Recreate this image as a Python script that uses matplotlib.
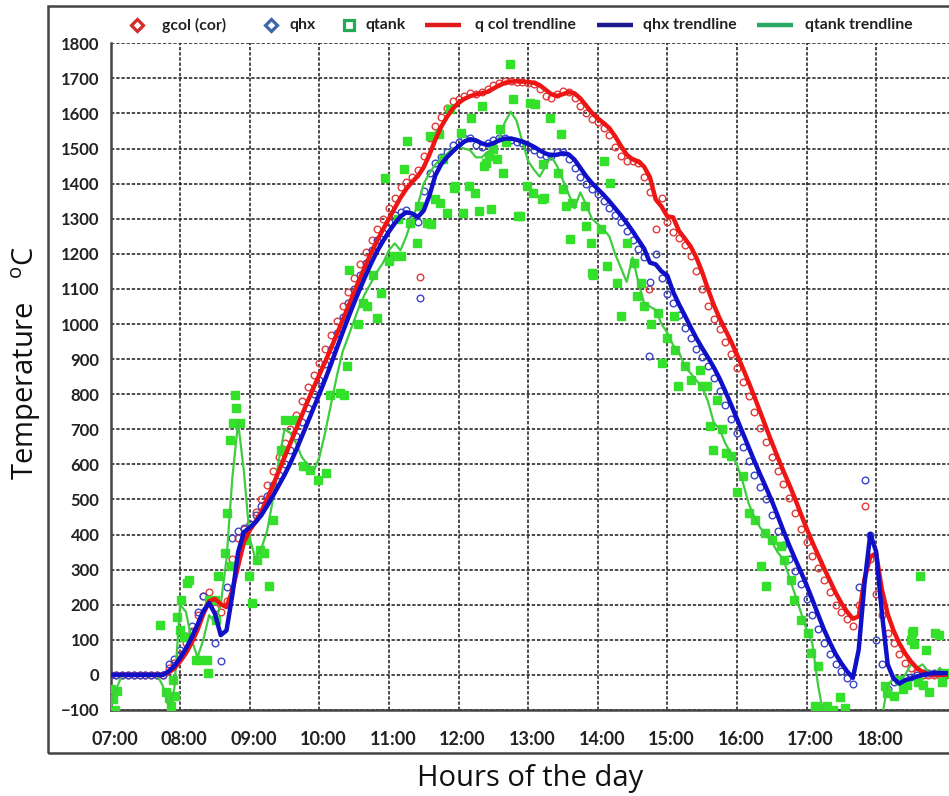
import matplotlib
matplotlib.use("Agg")
import matplotlib.pyplot as plt
import matplotlib.transforms as mtransforms
from matplotlib.lines import Line2D
from matplotlib.patches import Rectangle
import numpy as np
import pandas as pd

# 5-minute samples from 07:00 to 19:00, one row per hour (12 values), last value = 19:00
qcol = [
    0, 0, 0, 0, 0, 0, 0, 0, 0, 0, 20, 35,                                      # 07
    60, 90, 125, 170, 225, 235, 190, 180, 210, 330, 390, 415,                   # 08
    430, 465, 500, 540, 580, 620, 660, 700, 740, 780, 820, 855,                 # 09
    890, 930, 970, 1010, 1050, 1090, 1130, 1170, 1205, 1240, 1270, 1300,        # 10
    1330, 1360, 1390, 1405, 1420, 1440, 1480, 1530, 1565, 1590, 1615, 1635,     # 11
    1640, 1650, 1658, 1655, 1660, 1670, 1682, 1688, 1692, 1693, 1690, 1690,     # 12
    1688, 1684, 1670, 1650, 1645, 1655, 1665, 1662, 1645, 1622, 1600, 1584,     # 13
    1575, 1560, 1540, 1505, 1478, 1465, 1465, 1460, 1420, 1375, 1270, 1360,     # 14
    1290, 1262, 1245, 1225, 1195, 1150, 1100, 1050, 1015, 985, 950, 915,        # 15
    875, 835, 795, 750, 705, 665, 620, 580, 545, 505, 460, 415,                 # 16
    380, 340, 305, 270, 235, 200, 180, 160, 140, 200, 480, 330,                 # 17
    230, 170, 120, 90, 60, 35, 20, 5, 0, 0, 0, 0,                               # 18
    0]

qhx = [
    0, 0, 0, 0, 0, 0, 0, 0, 0, 0, 30, 45,                                       # 07
    70, 110, 140, 180, 225, 210, 90, 40, 250, 390, 410, 420,                    # 08
    430, 455, 480, 510, 540, 570, 600, 640, 680, 720, 760, 800,                 # 09
    840, 885, 930, 975, 1020, 1060, 1100, 1140, 1175, 1210, 1240, 1260,         # 10
    1290, 1310, 1320, 1325, 1300, 1290, 1380, 1430, 1460, 1475, 1490, 1510,     # 11
    1520, 1530, 1530, 1510, 1505, 1515, 1525, 1530, 1530, 1525, 1520, 1515,     # 12
    1505, 1495, 1485, 1478, 1480, 1490, 1490, 1470, 1445, 1420, 1400, 1385,     # 13
    1370, 1350, 1330, 1310, 1290, 1265, 1240, 1215, 1190, 1120, 1200, 1130,     # 14
    1085, 1060, 1025, 990, 960, 930, 905, 880, 845, 810, 770, 730,              # 15
    690, 650, 610, 570, 535, 500, 455, 410, 370, 330, 295, 260,                 # 16
    215, 170, 130, 90, 60, 30, 10, -10, -25, 250, 555, 400,                     # 17
    100, 30, -40, -20, -15, -10, -5, 0, 5, 5, 5, 5,                             # 18
    5]

# single off-trend readings (hour, value)
qcol_odd_t = [11.45, 14.73]
qcol_odd_q = [1135, 1100]
qhx_odd_t = [11.45, 14.73]
qhx_odd_q = [1074, 910]

qtank_trend = [
    -90, -40, 0, 0, 0, 0, 0, 0, 0, -30, -90, -40,                               # 07
    200, 180, 100, 50, 100, 170, 150, 200, 330, 560, 720, 580,                  # 08
    390, 330, 360, 410, 500, 610, 700, 690, 660, 620, 600, 580,                 # 09
    620, 690, 770, 850, 920, 965, 1010, 1055, 1090, 1120, 1150, 1175,           # 10
    1210, 1230, 1210, 1250, 1300, 1340, 1400, 1430, 1455, 1470, 1485, 1500,     # 11
    1505, 1500, 1495, 1475, 1475, 1490, 1500, 1530, 1575, 1605, 1580, 1520,     # 12
    1465, 1440, 1420, 1450, 1478, 1450, 1410, 1370, 1330, 1375, 1340, 1300,     # 13
    1285, 1270, 1250, 1200, 1160, 1120, 1190, 1120, 1060, 1050, 1040, 1000,     # 14
    975, 940, 920, 880, 860, 840, 820, 780, 720, 700, 660, 630,                 # 15
    600, 550, 490, 450, 420, 400, 380, 350, 330, 280, 230, 180,                 # 16
    130, 90, -30, -120, -130, -120, -110, -140, -160, -160, -160, -160,         # 17
    -150, -120, -30, -10, -20, 0, 30, 20, 30, 10, 0, 20,                        # 18
    0]

# tank readings: minutes after 07:00 and value
tank_min = [
    0, 2, 4, 6, 43, 48, 50, 52, 54, 56, 57,
    60, 61, 63, 66, 68, 74, 77, 83, 84, 85, 90, 91, 93, 99, 100, 103, 104, 106, 107, 108, 112, 117, 119,
    122, 126, 129, 132, 137, 140, 147, 150, 158, 166, 172, 179,
    186, 189, 198, 201, 204, 206, 213, 218, 221, 226, 230, 233, 237,
    240, 244, 248, 250, 253, 256, 258, 264, 266, 273, 275, 276, 280, 283, 284, 287, 290, 293, 296, 297,
    302, 304, 309, 311, 314, 318, 320, 322, 324, 326, 328, 330, 333, 336, 338, 341, 344, 347, 351, 353, 359,
    362, 364, 366, 372, 373, 374, 379, 386, 388, 390, 393, 396, 398, 409, 410, 414, 415, 416,
    423, 425, 428, 431, 437, 440, 445, 451, 454, 457, 460, 466, 472, 475,
    480, 486, 487, 489, 495, 500, 508, 510, 514, 517, 519, 523, 527, 531, 535,
    540, 545, 550, 556, 561, 564, 565, 570, 578, 581, 587, 589, 595,
    601, 604, 607, 610, 614, 618, 623, 629, 633,
    668, 669, 675, 680, 683, 687, 690, 691, 692, 693, 696, 698, 700, 703, 706, 711, 714, 717, 720]
tank_q = [
    -40, -70, -100, -45, 143, -50, -65, -90, -14, -60, 166,
    128, 214, 109, 262, 271, 43, 43, 43, 5, 214, 214, 157, 281, 347, 461, 670, 309, 718, 799, 761, 718, 385, 281,
    204, 328, 356, 347, 252, 442, 642, 727, 727, 594, 585, 556,
    575, 799, 803, 799, 880, 1155, 1000, 1060, 1051, 1140, 1018, 1089, 1417,
    1180, 1194, 1300, 1193, 1441, 1522, 1289, 1232, 1336, 1289, 1536, 1284, 1355, 1541, 1346, 1469, 1317, 1612, 1389, 1393,
    1545, 1317, 1393, 1588, 1374, 1322, 1621, 1450, 1460, 1480, 1327, 1500, 1470, 1555, 1431, 1520, 1740, 1640, 1308, 1308, 1393,
    1631, 1374, 1626, 1355, 1455, 1360, 1588, 1431, 1541, 1384, 1336, 1241, 1346, 1336, 1279, 1232, 1146, 1141,
    1270, 1465, 1165, 1403, 1117, 1022, 1232, 1175, 1079, 1117, 1051, 1000, 1032, 889,
    960, 1022, 927, 822, 880, 840, 870, 822, 823, 709, 642, 784, 700, 632, 623,
    520, 566, 461, 442, 309, 404, 252, 385, 366, 328, 271, 214, 157,
    119, 62, -90, 24, -95, -90, -100, -62, -95,
    -33, -52, -60, -14, -40, -30, 100, 119, 124, 87, -20, 281, -30, 71, -50, 119, 114, -20, 5]

hour_ticks = list(range(7, 19))
hour_labels = ["%02d:00" % h for h in hour_ticks]

t5 = 7 + np.arange(len(qcol)) * 5 / 60.0
t_tank = 7 + np.array(tank_min) / 60.0

# moving-average trendlines (period 3)
qcol_trend = pd.Series(qcol).rolling(3, min_periods=1).mean()
qhx_trend = pd.Series(qhx).rolling(3, min_periods=1).mean()

W, H = 949, 796
fig = plt.figure(figsize=(W / 100, H / 100), dpi=100)
fig.patch.set_facecolor("white")

# frame around the whole chart
fig.patches.append(Rectangle((48 / W, 1 - 753 / H), 1.0, (753 - 6) / H, transform=fig.transFigure,
                             fill=False, edgecolor="#444444", linewidth=1.8))

ax = fig.add_axes([110.5 / W, 1 - 710 / H, (W - 110.5) / W, (710 - 43.3) / H])

circ = dict(ls="none", marker="o", ms=4.8, mfc="none", mew=1.0, zorder=3)
ax.plot(t5, qcol, mec="#e23b3b", **circ)
ax.plot(qcol_odd_t, qcol_odd_q, mec="#e23b3b", **circ)
ax.plot(t5, qhx, mec="#3b45c8", **circ)
ax.plot(qhx_odd_t, qhx_odd_q, mec="#3b45c8", **circ)
ax.plot(t_tank, tank_q, ls="none", marker="s", ms=5.2, mfc="#33e02a", mec="#33e02a", zorder=4)

ax.plot(t5, qtank_trend, color="#3fcc3f", lw=1.6, zorder=4.5)
ax.plot(t5, qcol_trend, color="#ee1515", lw=3.2, zorder=5, solid_joinstyle="round")
ax.plot(t5, qhx_trend, color="#1010c8", lw=3.2, zorder=6, solid_joinstyle="round")

ax.set_xlim(7, 7 + (W - 110.5) / 69.6)
ax.set_ylim(-100, 1800)
ax.set_yticks(range(-100, 1801, 100))
ax.set_xticks(hour_ticks)
ax.set_xticklabels(hour_labels)

ax.grid(True, color="#1a1a1a", linestyle=(0, (2.2, 1.2)), linewidth=1.1, zorder=0)
ax.set_axisbelow(True)

for side in ["top", "right"]:
    ax.spines[side].set_visible(False)
for side in ["left", "bottom"]:
    ax.spines[side].set_color("#444444")
    ax.spines[side].set_linewidth(1.8)

ax.tick_params(length=0, labelcolor="#222222")
ax.tick_params(axis="x", pad=15, labelsize=13)
ax.tick_params(axis="y", pad=8, labelsize=12)
shift = mtransforms.ScaledTranslation(4 / 100, 0, fig.dpi_scale_trans)
for lab in ax.get_xticklabels():
    lab.set_transform(lab.get_transform() + shift)
for lab in ax.get_xticklabels() + ax.get_yticklabels():
    lab.set_fontfamily("Lato")
    lab.set_fontweight("bold")

ax.set_ylabel("Temperature   $^{\\mathregular{o}}$C", fontsize=21, family="Open Sans", color="#111111")
ax.yaxis.set_label_coords(-0.08, 0.52)
ax.set_xlabel("Hours of the day", fontsize=21, family="Open Sans", color="#111111")
ax.xaxis.set_label_coords(0.5, -0.081)

# legend row across the top: (marker or line, colour, label, handle x in px, text x in px)
legend_y = 1 - 25 / H
legend_items = [
    ("D", "#d42a2a", "gcol (cor)", 137, 162),
    ("D", "#3f66a8", "qhx", 271, 290),
    ("s", "#22aa55", "qtank", 349, 365),
    ("-", "#e01b1b", "q col trendline", 443, 475),
    ("-", "#1a1a8c", "qhx trendline", 615, 643),
    ("-", "#2aa866", "qtank trendline", 775, 805),
]
for kind, color, label, hx, tx in legend_items:
    if kind == "-":
        fig.add_artist(Line2D([(hx - 18) / W, (hx + 18) / W], [legend_y, legend_y], transform=fig.transFigure,
                              color=color, lw=3.2, solid_capstyle="butt"))
    else:
        fig.add_artist(Line2D([hx / W], [legend_y], transform=fig.transFigure, ls="none", marker=kind,
                              ms=6.5, mfc="none", mec=color, mew=2.3))
    fig.text(tx / W, legend_y, label, ha="left", va="center", family="Lato", weight="bold",
             fontsize=11.3, color="#222222")

fig.savefig("out.png", dpi=100)
